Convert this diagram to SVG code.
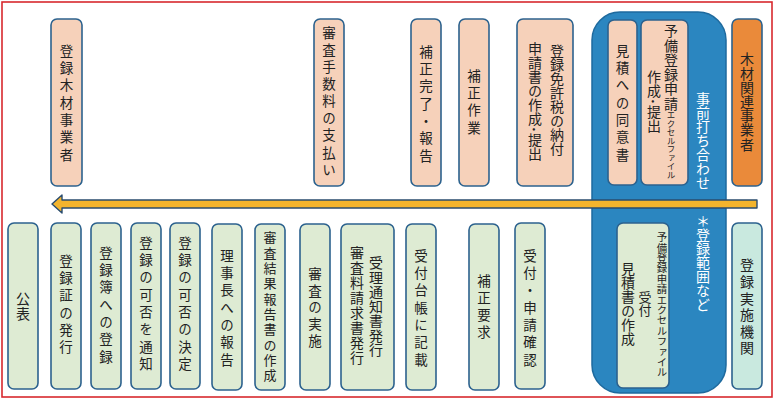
<svg xmlns="http://www.w3.org/2000/svg" width="775" height="400" viewBox="0 0 775 400">
<style>
.frame{fill:#ffffff;stroke:#d8282e;stroke-width:1.6}
.n rect{stroke:#2c628e;stroke-width:1.6}
.p rect{fill:#f6d1ba}
.g rect{fill:#deebd3}
.tl rect{fill:#c9e9df}
.o rect{fill:#ea8a3a}
.t{font-family:"Noto Sans CJK JP","Noto Sans",sans-serif;writing-mode:vertical-rl;fill:#222222;font-size:13.5px;letter-spacing:3.8px}
.d{font-size:14px;letter-spacing:0px}
.w{fill:#ffffff}
</style>
<rect class="frame" x="2" y="2" width="770" height="395"/>
<g id="meeting">
<rect x="592" y="12" width="134" height="381" rx="28" fill="#2b86c0" stroke="#1e6a9e" stroke-width="1.5"/>
<text class="t d w" x="703" y="92">事前打ち合わせ</text>
<text class="t d w" x="703" y="214">＊登録範囲など</text>
</g>
<g id="n-jigyosha" class="n p"><rect x="51" y="19" width="31" height="167" rx="6"/><text class="t" x="66.5" y="44">登録木材事業者</text></g>
<g id="n-tesuryo" class="n p"><rect x="314" y="19" width="30" height="167" rx="6"/><text class="t" x="329" y="26" style="letter-spacing:3.6px">審査手数料の支払い</text></g>
<g id="n-hosei-kanryo" class="n p"><rect x="411" y="19" width="30" height="167" rx="6"/><text class="t" x="426" y="45">補正完了・報告</text></g>
<g id="n-hosei-sagyo" class="n p"><rect x="459" y="19" width="30" height="167" rx="6"/><text class="t" x="474" y="69">補正作業</text></g>
<g id="n-menkyozei" class="n p"><rect x="517" y="19" width="56" height="167" rx="6"/><text class="t d" x="557" y="44">登録免許税の納付</text><text class="t d" x="535" y="42">申請書の作成･提出</text></g>
<g id="n-doisho" class="n p"><rect x="608" y="20" width="29" height="165" rx="6"/><text class="t" x="622.5" y="44">見積への同意書</text></g>
<g id="n-yobi-teishutsu" class="n p"><rect x="641" y="20" width="47" height="165" rx="6"/><text class="t d" x="671" y="24" style="letter-spacing:0.5px">予備登録申請<tspan style="font-size:8.5px;letter-spacing:0px">エクセルファイル</tspan></text><text class="t d" x="654" y="70">作成･提出</text></g>
<g id="n-kanren" class="n o"><rect x="732" y="19" width="30" height="167" rx="6"/><text class="t d" x="747" y="52" style="letter-spacing:0.2px">木材関連事業者</text></g>
<g id="connectors">
<path d="M757,200 L62,200 L62,195 L52,204 L62,213 L62,208 L757,208 Z" fill="#f3b42d" stroke="#2a4c6e" stroke-width="1.4" stroke-linejoin="round"/>
</g>
<g id="n-kohyo" class="n g"><rect x="8" y="223" width="30" height="166" rx="6"/><text class="t d" x="23" y="292" style="letter-spacing:1px">公表</text></g>
<g id="n-torokusho" class="n g"><rect x="51" y="223" width="30" height="166" rx="6"/><text class="t" x="66" y="254">登録証の発行</text></g>
<g id="n-torokubo" class="n g"><rect x="91" y="223" width="30" height="166" rx="6"/><text class="t" x="106" y="246">登録簿への登録</text></g>
<g id="n-tsuchi" class="n g"><rect x="131" y="223" width="30" height="166" rx="6"/><text class="t" x="146" y="236">登録の可否を通知</text></g>
<g id="n-kettei" class="n g"><rect x="170" y="223" width="30" height="166" rx="6"/><text class="t" x="185" y="236">登録の可否の決定</text></g>
<g id="n-rijicho" class="n g"><rect x="212" y="224" width="30" height="166" rx="6"/><text class="t" x="227" y="249">理事長への報告</text></g>
<g id="n-kekka" class="n g"><rect x="255" y="224" width="30" height="166" rx="6"/><text class="t" x="270" y="231" style="font-size:13px;letter-spacing:2.3px">審査結果報告書の作成</text></g>
<g id="n-shinsa" class="n g"><rect x="300" y="224" width="30" height="166" rx="6"/><text class="t" x="315" y="267" style="letter-spacing:3.2px">審査の実施</text></g>
<g id="n-juri" class="n g"><rect x="341" y="224" width="53" height="166" rx="6"/><text class="t d" x="376" y="256" style="letter-spacing:0.5px">受理通知書発行</text><text class="t d" x="357" y="246" style="letter-spacing:0.9px">審査料請求書発行</text></g>
<g id="n-daicho" class="n g"><rect x="406" y="224" width="30" height="166" rx="6"/><text class="t" x="421" y="249">受付台帳に記載</text></g>
<g id="n-yokyu" class="n g"><rect x="469" y="224" width="30" height="166" rx="6"/><text class="t" x="484" y="274" style="letter-spacing:3.5px">補正要求</text></g>
<g id="n-uketsuke" class="n g"><rect x="515" y="223" width="30" height="166" rx="6"/><text class="t" x="530" y="249">受付・申請確認</text></g>
<g id="n-mitsumori" class="n g"><rect x="617" y="223" width="52" height="165" rx="6"/><text class="t" x="662" y="232" style="font-size:10.4px;letter-spacing:0px">予備登録申請エクセルファイル</text><text class="t" x="645" y="291" style="font-size:13px;letter-spacing:0px">受付</text><text class="t d" x="628" y="262">見積書の作成</text></g>
<g id="n-kikan" class="n tl"><rect x="732" y="223" width="30" height="166" rx="6"/><text class="t d" x="747" y="258" style="letter-spacing:2.6px">登録実施機関</text></g>
</svg>
